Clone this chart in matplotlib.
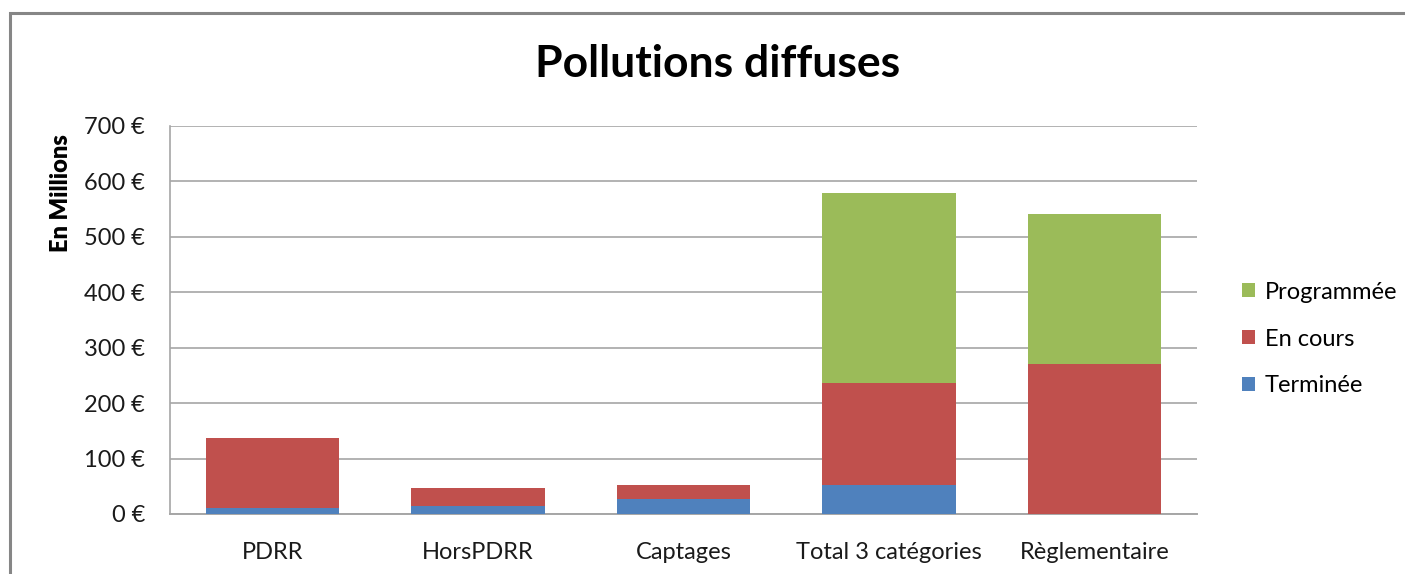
import matplotlib.pyplot as plt
from matplotlib.patches import Rectangle
from matplotlib.ticker import FuncFormatter
import numpy as np

plt.rcParams['font.family'] = ['Lato', 'DejaVu Sans']

categories = ['PDRR', 'HorsPDRR', 'Captages', 'Total 3 catégories', 'Règlementaire']
terminee = [10, 15, 27, 52, 0]
en_cours = [127, 32, 25, 185, 270]
programmee = [0, 0, 0, 343, 271]
yticks = [0, 100, 200, 300, 400, 500, 600, 700]

W, H = 1405, 574
fig = plt.figure(figsize=(W / 100, H / 100), dpi=100)
# axes box in pixels: left 170, right 1197, top 126, bottom 514
ax = fig.add_axes([170 / W, 1 - 514 / H, (1197 - 170) / W, (514 - 126) / H])

# outer chart frame (top and left edges only fall inside the image)
fig.patches.append(Rectangle((10 / W, -0.1), 1.2, 1 - 13 / H + 0.1,
                             transform=fig.transFigure, fill=False,
                             edgecolor='#868686', linewidth=2.2))

x = np.arange(len(categories))
w = 0.65
c_blue, c_red, c_green = '#4f81bd', '#c0504d', '#9bbb59'
t = np.array(terminee)
e = np.array(en_cours)
p = np.array(programmee)
ax.bar(x, t, w, color=c_blue, label='Terminée', zorder=3)
ax.bar(x, e, w, bottom=t, color=c_red, label='En cours', zorder=3)
ax.bar(x, p, w, bottom=t + e, color=c_green, label='Programmée', zorder=3)

ax.set_xlim(-0.5, len(categories) - 0.5)
ax.set_ylim(0, 700)
ax.set_yticks(yticks)
ax.yaxis.set_major_formatter(FuncFormatter(lambda v, pos: f'{v:.0f}\u202f€'))
ax.grid(axis='y', color='#a6a6a6', linewidth=1.2, zorder=0)
ax.set_xticks(x)
ax.set_xticklabels(categories)
ax.tick_params(axis='both', length=0, labelsize=17, colors='#1a1a1a')
ax.tick_params(axis='x', pad=20)
ax.tick_params(axis='y', pad=18)

for side in ['top', 'right']:
    ax.spines[side].set_visible(False)
ax.spines['left'].set_color('#a6a6a6')
ax.spines['left'].set_linewidth(1.2)
ax.spines['bottom'].set_color('#a6a6a6')
ax.spines['bottom'].set_linewidth(1.4)

fig.text(718 / W, 1 - 64 / H, 'Pollutions diffuses', ha='center', va='center',
         fontsize=32, fontweight='bold', color='black')
fig.text(61 / W, 1 - 193 / H, 'En Millions', ha='center', va='center',
         rotation=90, fontsize=17, fontweight='heavy', color='black')

handles, labels = ax.get_legend_handles_labels()
fig.legend(handles[::-1], labels[::-1], loc='center left',
           bbox_to_anchor=(1221 / W, 1 - 339 / H), frameon=False,
           fontsize=17, handlelength=0.55, handleheight=0.55,
           handletextpad=0.4, labelspacing=1.1)

fig.savefig('out.png', dpi=100, facecolor='white')
